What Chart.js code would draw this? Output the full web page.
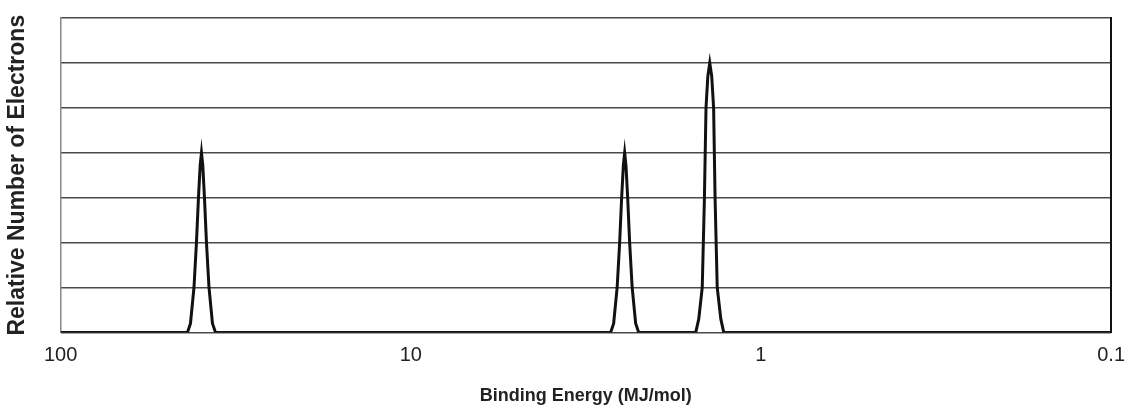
<!DOCTYPE html>
<html>
<head>
<meta charset="utf-8">
<title>Binding Energy</title>
<script src="https://cdn.jsdelivr.net/npm/chart.js@4/dist/chart.umd.min.js"></script>
<style>
	body { margin: 0; background: #fff; }
</style>
</head>
<body>
<canvas id="mycanvas" width="1128" height="414"></canvas>
<script>
// tick labels on the binding energy axis (MJ/mol)
var energyTicks = [100, 10, 1, 0.1];

// spectrum: binding energy (MJ/mol) and relative count
var energy = [
	100,
	43.42, 42.57, 41.60, 40.93, 40.39, 39.94, 39.6, 39.26, 38.83, 38.32, 37.69, 36.84, 36.11,
	2.686, 2.634, 2.574, 2.532, 2.499, 2.471, 2.45, 2.429, 2.402, 2.371, 2.332, 2.279, 2.234,
	1.535, 1.505, 1.471, 1.450, 1.435, 1.418, 1.40, 1.382, 1.365, 1.352, 1.333, 1.302, 1.277,
	0.1
];
var electrons = [
	0,
	0, 0.1, 0.5, 1, 1.5, 1.86, 2, 1.86, 1.5, 1, 0.5, 0.1, 0,
	0, 0.1, 0.5, 1, 1.5, 1.86, 2, 1.86, 1.5, 1, 0.5, 0.1, 0,
	0, 0.15, 0.5, 1.5, 2.5, 2.85, 3, 2.85, 2.5, 1.5, 0.5, 0.15, 0,
	0
];

var points = [];
for (var i in energy) {
	points.push({x: energy[i], y: electrons[i]});
}

var font = "'Liberation Sans', Arial, sans-serif";

var ctx = document.getElementById('mycanvas');
var chart = new Chart(ctx, {
	type: 'scatter',
	data: {
		datasets: [
			{
				label: 'Electrons',
				data: points,
				showLine: true,
				borderColor: '#111',
				borderWidth: 3,
				pointRadius: 0,
				tension: 0
			}
		]
	},
	options: {
		responsive: false,
		animation: false,
		layout: { padding: { top: 18, right: 14, left: 4, bottom: 2 } },
		plugins: {
			legend: { display: false },
			tooltip: { enabled: false }
		},
		scales: {
			x: {
				type: 'logarithmic',
				reverse: true,
				min: 0.1,
				max: 100,
				afterBuildTicks: function(axis) {
					axis.ticks = energyTicks.map(function(v) { return {value: v}; });
				},
				ticks: {
					autoSkip: false,
					maxRotation: 0,
					padding: 3,
					color: '#222',
					font: { family: font, size: 20 },
					callback: function(v) { return String(v); }
				},
				grid: { display: false },
				border: { display: false },
				title: {
					display: true,
					text: 'Binding Energy (MJ/mol)',
					color: '#222',
					font: { family: font, size: 18, weight: 'bold' },
					padding: { top: 15, bottom: 5 }
				}
			},
			y: {
				weight: 1,
				min: 0,
				max: 3.5,
				ticks: { display: false, stepSize: 0.5 },
				grid: { color: '#4a4a4a', lineWidth: 1.5, drawTicks: false },
				border: { display: false },
				title: {
					display: true,
					text: 'Relative Number of Electrons',
					color: '#222',
					font: { family: font, size: 23, weight: 'bold' },
					padding: { top: 0, bottom: 29 }
				}
			},
			yLeft: {
				position: 'left',
				weight: 0,
				min: 0,
				max: 3.5,
				ticks: { display: false },
				grid: { display: false, drawTicks: false },
				border: { display: true, color: '#888', width: 1.5, dash: [2, 2] }
			},
			y2: {
				position: 'right',
				min: 0,
				max: 3.5,
				ticks: { display: false },
				grid: { display: false, drawTicks: false },
				border: { display: true, color: '#111', width: 2 }
			}
		}
	}
});
</script>
</body>
</html>
